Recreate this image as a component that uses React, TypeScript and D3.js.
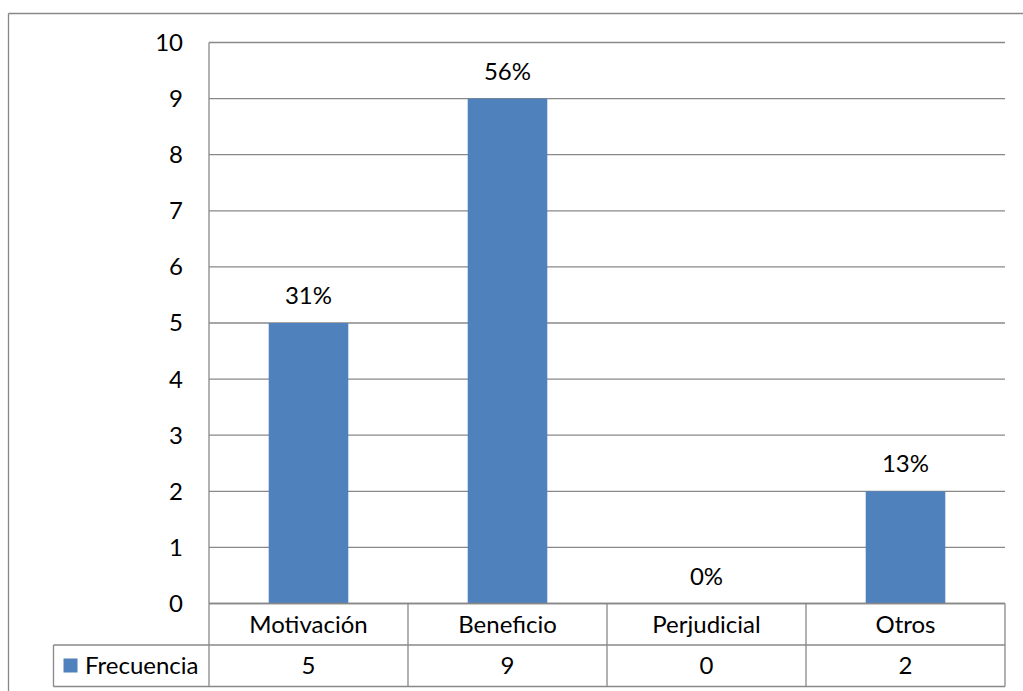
import React from "react";
import * as d3 from "d3";

const categories = ["Motivación", "Beneficio", "Perjudicial", "Otros"];
const frecuencia = [5, 9, 0, 2];
const pctLabels = ["31%", "56%", "0%", "13%"];
const yTicks = [0, 1, 2, 3, 4, 5, 6, 7, 8, 9, 10];
const seriesName = "Frecuencia";

const W = 1023;
const H = 691;
const plotLeft = 209;
const plotRight = 1005;
const plotTop = 42.5;
const plotBottom = 603.5;
const row1Bottom = 645;
const row2Bottom = 686.5;
const legendLeft = 53.5;
const frameLeft = 8.5;
const frameTop = 13.5;

const BAR = "#4F81BD";
const LINE = "#888888";
const FONT = "Lato, 'Open Sans', sans-serif";
const FS = 24;

export default function App() {
  const x = d3.scaleBand<string>().domain(categories).range([plotLeft, plotRight]).padding(0);
  const y = d3.scaleLinear().domain([0, 10]).range([plotBottom, plotTop]);
  const bw = x.bandwidth() * 0.4;

  return (
    <svg
      width={W}
      height={H}
      style={{ position: "absolute", left: 0, top: 0, background: "#fff" }}
      fontFamily={FONT}
    >
      <rect x={0} y={0} width={W} height={H} fill="#fff" />
      {/* outer frame */}
      <line x1={frameLeft} y1={frameTop} x2={W + 5} y2={frameTop} stroke={LINE} strokeWidth={1.3} />
      <line x1={frameLeft} y1={frameTop} x2={frameLeft} y2={H + 5} stroke={LINE} strokeWidth={1.3} />

      {/* gridlines */}
      {yTicks.map((t) => (
        <line key={"g" + t} x1={plotLeft} x2={plotRight} y1={y(t)} y2={y(t)} stroke={LINE} strokeWidth={1.3} />
      ))}
      {/* y tick labels */}
      {yTicks.map((t) => (
        <text key={"t" + t} x={183} y={y(t)} dy="0.35em" textAnchor="end" fontSize={FS} fill="#000">
          {t}
        </text>
      ))}

      {/* bars */}
      {categories.map((c, i) => {
        const cx = (x(c) as number) + x.bandwidth() / 2;
        return (
          <g key={"b" + c}>
            {frecuencia[i] > 0 && (
              <rect x={cx - bw / 2} y={y(frecuencia[i])} width={bw} height={y(0) - y(frecuencia[i])} fill={BAR} />
            )}
            <text x={cx} y={y(frecuencia[i]) - 19} textAnchor="middle" fontSize={FS} fill="#000">
              {pctLabels[i]}
            </text>
          </g>
        );
      })}

      {/* axis baseline redrawn over bars */}
      <line x1={plotLeft} x2={plotRight} y1={y(0)} y2={y(0)} stroke={LINE} strokeWidth={1.3} />

      {/* data table */}
      <line x1={legendLeft} x2={plotRight} y1={row1Bottom} y2={row1Bottom} stroke={LINE} strokeWidth={1.3} />
      <line x1={legendLeft} x2={plotRight} y1={row2Bottom} y2={row2Bottom} stroke={LINE} strokeWidth={1.3} />
      <line x1={legendLeft} x2={legendLeft} y1={row1Bottom} y2={row2Bottom} stroke={LINE} strokeWidth={1.3} />
      <line x1={plotLeft} x2={plotLeft} y1={plotTop} y2={row2Bottom} stroke={LINE} strokeWidth={1.3} />
      {categories.map((c) => {
        const right = (x(c) as number) + x.bandwidth();
        return (
          <line key={"v" + c} x1={right} x2={right} y1={plotBottom} y2={row2Bottom} stroke={LINE} strokeWidth={1.3} />
        );
      })}
      {categories.map((c, i) => {
        const cx = (x(c) as number) + x.bandwidth() / 2;
        return (
          <g key={"c" + c}>
            <text x={cx} y={(plotBottom + row1Bottom) / 2} dy="0.35em" textAnchor="middle" fontSize={FS} fill="#000">
              {c}
            </text>
            <text x={cx} y={(row1Bottom + row2Bottom) / 2} dy="0.35em" textAnchor="middle" fontSize={FS} fill="#000">
              {frecuencia[i]}
            </text>
          </g>
        );
      })}
      {/* legend key */}
      <rect x={63.5} y={658.5} width={14} height={14} fill={BAR} />
      <text x={85} y={(row1Bottom + row2Bottom) / 2} dy="0.35em" fontSize={FS} fill="#000">
        {seriesName}
      </text>
    </svg>
  );
}
